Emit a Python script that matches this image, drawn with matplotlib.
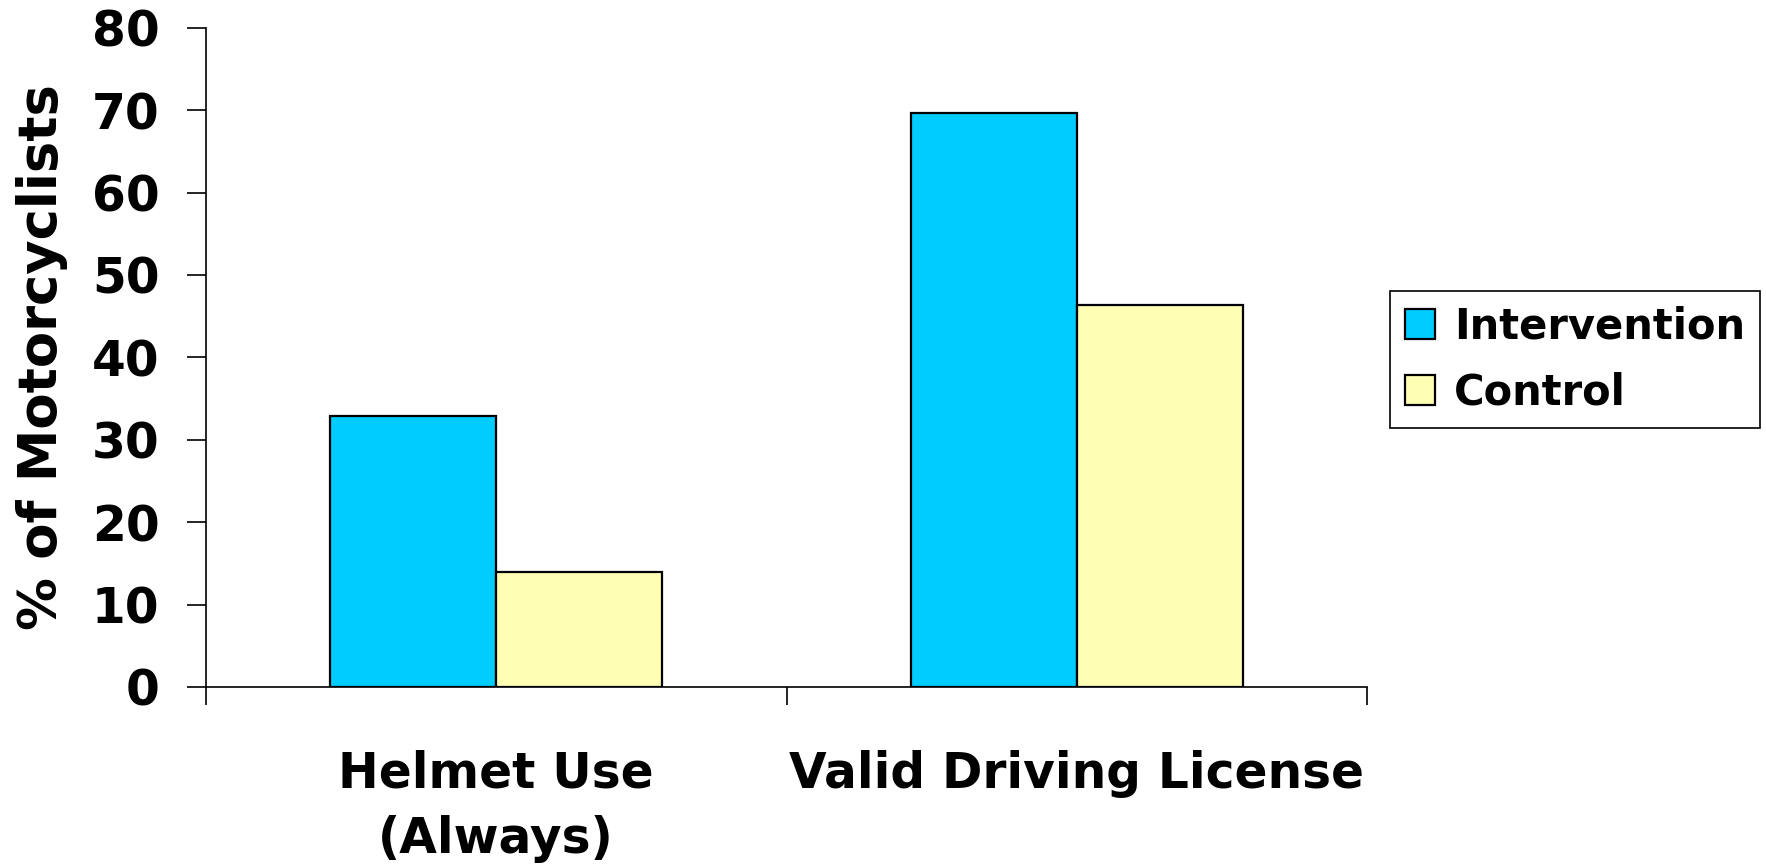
import matplotlib
matplotlib.use("Agg")
import matplotlib.pyplot as plt
import numpy as np

categories = ["Helmet Use\n(Always)", "Valid Driving License"]
series_names = ["Intervention", "Control"]
intervention = [32.9, 69.6]
control = [14.0, 46.4]
yticks = [0, 10, 20, 30, 40, 50, 60, 70, 80]
colors = ["#00CCFF", "#FFFFB4"]

plt.rcParams['font.family'] = ['DejaVu Sans']
plt.rcParams['font.weight'] = 'bold'

fig = plt.figure(figsize=(17.66, 8.67), dpi=100)
ax = fig.add_axes([206/1766, 1-687/867, (1367-206)/1766, (687-27.7)/867])

x = np.arange(len(categories))
w = 0.286
ax.bar(x - w/2, intervention, width=w, color=colors[0], edgecolor='black', linewidth=1.6, label=series_names[0], zorder=3)
ax.bar(x + w/2, control, width=w, color=colors[1], edgecolor='black', linewidth=1.6, label=series_names[1], zorder=3)

ax.set_xlim(-0.5, len(categories) - 0.5)
ax.set_ylim(0, 80)
ax.set_yticks(yticks)
ax.set_yticklabels([str(v) for v in yticks], fontsize=35, fontweight='bold')
ax.tick_params(axis='y', direction='out', length=13.5, width=1.2, pad=20)

ax.set_xticks(x)
ax.set_xticklabels(categories, fontsize=35, fontweight='bold', linespacing=1.45)
ax.tick_params(axis='x', which='major', length=0, pad=45)
ax.set_xticks(np.arange(-0.5, len(categories)), minor=True)
ax.tick_params(axis='x', which='minor', direction='out', length=13, width=1.2)

for s in ['top', 'right']:
    ax.spines[s].set_visible(False)
for s in ['left', 'bottom']:
    ax.spines[s].set_linewidth(1.2)

ax.set_ylabel("% of Motorcyclists", fontsize=38, fontweight='bold', va='center')
ax.yaxis.set_label_coords(-0.141, 0.5)

leg = ax.legend(loc='upper left', bbox_to_anchor=(1390/1766, 1-290.7/867),
                bbox_transform=fig.transFigure, fontsize=30, frameon=True,
                fancybox=False, edgecolor='black', framealpha=1,
                handlelength=0.74, handleheight=0.74, handletextpad=0.45,
                borderpad=0.35, labelspacing=0.58, borderaxespad=0)
leg.get_frame().set_linewidth(1.2)
for t in leg.get_texts():
    t.set_fontweight('bold')

fig.savefig("out.png", dpi=100)
